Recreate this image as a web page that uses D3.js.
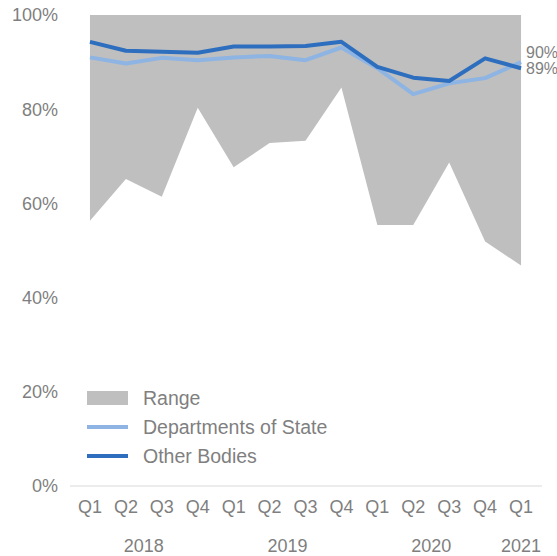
<!DOCTYPE html>
<html>
<head>
<meta charset="utf-8">
<script src="https://cdn.jsdelivr.net/npm/d3@7"></script>
<style>
	body { margin: 0; background: #fff; }
	text { font-family: "Liberation Sans", Arial, sans-serif; fill: #7f7f7f; }
</style>
</head>
<body>
<div id="chart"></div>
<script>
var quarters = ["Q1","Q2","Q3","Q4","Q1","Q2","Q3","Q4","Q1","Q2","Q3","Q4","Q1"];
var years = [
	{label:"2018", from:1, to:2},
	{label:"2019", from:5, to:6},
	{label:"2020", from:9, to:10},
	{label:"2021", from:12, to:12}
];
var rangeLow = [56.3, 65.2, 61.4, 80.3, 67.7, 72.8, 73.3, 84.6, 55.4, 55.4, 68.7, 51.9, 46.8];
var rangeHigh = [100, 100, 100, 100, 100, 100, 100, 100, 100, 100, 100, 100, 100];
var departments = [91.0, 89.7, 90.9, 90.4, 91.0, 91.3, 90.4, 93.1, 88.7, 83.2, 85.5, 86.6, 90.0];
var otherBodies = [94.3, 92.4, 92.2, 92.0, 93.3, 93.3, 93.4, 94.3, 89.0, 86.7, 86.0, 90.8, 88.7];
var yTicks = [0, 20, 40, 60, 80, 100];

var width = 557, height = 556;
var colGray = "#bfbfbf", colLight = "#8db4e2", colDark = "#2e6ebf";

var svg = d3.select("#chart").append("svg")
	.attr("width", width)
	.attr("height", height);

var idx = d3.range(quarters.length);

var x = d3.scaleBand()
	.domain(idx)
	.range([72, 539]);

var y = d3.scaleLinear()
	.domain([0, 100])
	.range([486, 15]);

function cx(i) { return x(i) + x.bandwidth() / 2; }

// range area
var area = d3.area()
	.x(function(d) { return cx(d); })
	.y0(function(d) { return y(rangeLow[d]); })
	.y1(function(d) { return y(rangeHigh[d]); });

svg.append("path")
	.datum(idx)
	.attr("d", area)
	.attr("fill", colGray);

// y axis labels (no line)
svg.selectAll(".ytick")
	.data(yTicks)
	.enter()
	.append("text")
	.attr("class", "ytick")
	.attr("x", 58)
	.attr("y", function(d) { return y(d); })
	.attr("dy", "0.35em")
	.attr("text-anchor", "end")
	.attr("font-size", "18px")
	.text(function(d) { return d + "%"; });

// x axis baseline
svg.append("line")
	.attr("x1", 70).attr("x2", 542)
	.attr("y1", y(0)).attr("y2", y(0))
	.attr("stroke", "#d9d9d9")
	.attr("stroke-width", 1);

svg.selectAll(".qlabel")
	.data(idx)
	.enter()
	.append("text")
	.attr("class", "qlabel")
	.attr("x", function(d) { return cx(d); })
	.attr("y", 507)
	.attr("dy", "0.35em")
	.attr("text-anchor", "middle")
	.attr("font-size", "18px")
	.text(function(d) { return quarters[d]; });

svg.selectAll(".ylabel")
	.data(years)
	.enter()
	.append("text")
	.attr("class", "ylabel")
	.attr("x", function(d) { return (cx(d.from) + cx(d.to)) / 2; })
	.attr("y", 546)
	.attr("dy", "0.35em")
	.attr("text-anchor", "middle")
	.attr("font-size", "18px")
	.text(function(d) { return d.label; });

// lines
function lineFor(arr) {
	return d3.line()
		.x(function(d) { return cx(d); })
		.y(function(d) { return y(arr[d]); });
}

svg.append("path")
	.datum(idx)
	.attr("d", lineFor(departments))
	.attr("fill", "none")
	.attr("stroke", colLight)
	.attr("stroke-width", 4)
	.attr("stroke-linejoin", "round");

svg.append("path")
	.datum(idx)
	.attr("d", lineFor(otherBodies))
	.attr("fill", "none")
	.attr("stroke", colDark)
	.attr("stroke-width", 4)
	.attr("stroke-linejoin", "round");

// end labels
var last = quarters.length - 1;
svg.append("text")
	.attr("x", cx(last) + 5)
	.attr("y", 52.5)
	.attr("dy", "0.35em")
	.attr("font-size", "16px")
	.text(Math.round(departments[last]) + "%");
svg.append("text")
	.attr("x", cx(last) + 5)
	.attr("y", 68)
	.attr("dy", "0.35em")
	.attr("font-size", "16px")
	.text(Math.round(otherBodies[last]) + "%");

// legend
var legend = svg.append("g").attr("transform", "translate(87,398)");
legend.append("rect")
	.attr("x", 0).attr("y", -7)
	.attr("width", 41).attr("height", 14)
	.attr("fill", colGray);
legend.append("line")
	.attr("x1", 0).attr("x2", 41)
	.attr("y1", 29).attr("y2", 29)
	.attr("stroke", colLight).attr("stroke-width", 4);
legend.append("line")
	.attr("x1", 0).attr("x2", 41)
	.attr("y1", 58).attr("y2", 58)
	.attr("stroke", colDark).attr("stroke-width", 4);
var legendText = ["Range", "Departments of State", "Other Bodies"];
legend.selectAll(".lt")
	.data(legendText)
	.enter()
	.append("text")
	.attr("class", "lt")
	.attr("x", 56)
	.attr("y", function(d, i) { return i * 29; })
	.attr("dy", "0.35em")
	.attr("font-size", "19.5px")
	.text(function(d) { return d; });
</script>
</body>
</html>
